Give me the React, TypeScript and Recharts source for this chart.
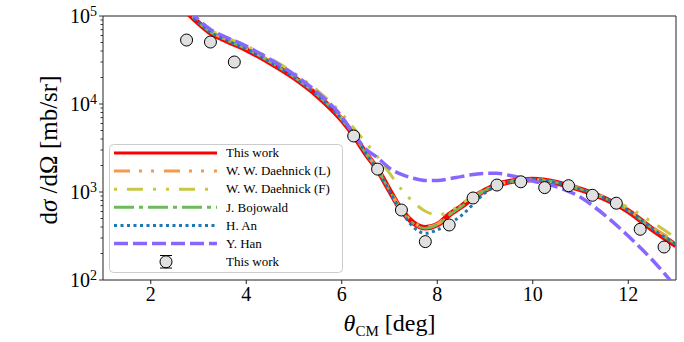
import { ComposedChart, Line, Scatter, XAxis, YAxis, ReferenceArea } from 'recharts';

// angle grid of the model curves [deg]
const thetaGrid = [2.5, 2.75, 3, 3.25, 3.5, 4, 4.5, 5, 5.5, 6, 6.25, 6.5, 6.75, 7, 7.25, 7.5, 7.75, 8, 8.25, 8.5, 8.75, 9, 9.25, 9.5, 9.75, 10, 10.5, 11, 11.5, 12, 12.5, 13];

// model cross sections [mb/sr]
const thisWork = [151000, 112000, 83200, 64600, 55000, 41700, 29500, 19950, 12300, 6610, 4420, 2750, 1800, 1045, 621, 446, 392, 426, 552, 682, 865, 1045, 1202, 1306, 1371, 1387, 1276, 1069, 843, 607, 378, 247];
const daehnickL = [156000, 116000, 86100, 66900, 56900, 43200, 30500, 20650, 12700, 6840, 4550, 2800, 1820, 1050, 625, 450, 398, 430, 555, 690, 870, 1050, 1205, 1310, 1375, 1390, 1285, 1085, 862, 628, 400, 268];
const daehnickF = [161500, 120000, 89900, 69800, 59400, 45900, 33000, 22500, 14100, 7800, 5330, 3660, 2510, 1640, 1070, 767, 605, 551, 592, 731, 885, 1045, 1202, 1306, 1371, 1387, 1280, 1080, 870, 670, 455, 300];
const bojowald = [152800, 113300, 84200, 65400, 55700, 42200, 29850, 20200, 12450, 6690, 4470, 2770, 1805, 1040, 615, 440, 388, 422, 548, 680, 862, 1042, 1200, 1305, 1372, 1390, 1282, 1078, 852, 615, 385, 254];
const hAn = [152800, 113300, 84200, 65400, 55700, 42200, 29850, 20200, 12450, 6690, 4450, 2760, 1790, 1020, 603, 398, 339, 372, 437, 537, 724, 977, 1175, 1288, 1365, 1385, 1280, 1075, 850, 612, 383, 252];
const yHan = [164600, 122000, 90700, 70400, 60000, 45500, 32200, 21700, 13400, 7200, 4570, 3090, 2455, 1860, 1585, 1435, 1350, 1350, 1413, 1496, 1578, 1629, 1629, 1549, 1445, 1334, 1148, 871, 550, 316, 170, 83];

// measured points
const dataTheta = [2.75, 3.25, 3.75, 6.25, 6.75, 7.25, 7.75, 8.25, 8.75, 9.25, 9.75, 10.25, 10.75, 11.25, 11.75, 12.25, 12.75];
const dataSigma = [53300, 50600, 30000, 4330, 1820, 624, 273, 422, 855, 1200, 1306, 1122, 1180, 918, 746, 377, 237];

const xTicks = [2, 4, 6, 8, 10, 12];
const yTicks = [2, 3, 4].flatMap((e) => [1, 2, 3, 4, 5, 6, 7, 8, 9].map((m) => m * Math.pow(10, e))).concat([100000]);

const FONT = '"Liberation Serif", "DejaVu Serif", serif';

const series = [
  { key: 'thisWork', name: 'This work', color: '#ff0000', width: 5.5, legendWidth: 3.2, dash: undefined },
  { key: 'daehnickL', name: 'W. W. Daehnick (L)', color: '#f5994a', width: 3.5, legendWidth: 3, dash: '16 9 3 9 3 10' },
  { key: 'daehnickF', name: 'W. W. Daehnick (F)', color: '#c9c845', width: 3, legendWidth: 3, dash: '3 10 16 10 3 10' },
  { key: 'bojowald', name: 'J. Bojowald', color: '#6bbb5a', width: 2.5, legendWidth: 3, dash: '20 5 4 5' },
  { key: 'an', name: 'H. An', color: '#1f77b4', width: 3, legendWidth: 3, dash: '3 3.5' },
  { key: 'han', name: 'Y. Han', color: '#8866ff', width: 3.5, legendWidth: 3.5, dash: '14 5' },
];

const values: Record<string, number[]> = { thisWork, daehnickL, daehnickF, bojowald, an: hAn, han: yHan };

const curveRows = thetaGrid.map((t, i) => {
  const row: Record<string, number> = { theta: t };
  series.forEach((s) => { row[s.key] = values[s.key][i]; });
  return row;
});

const pointRows = dataTheta.map((t, i) => ({ theta: t, sigma: dataSigma[i] }));

function YTick(props: any) {
  const { x, y, payload } = props;
  const v = payload.value;
  const exp = Math.round(Math.log10(v));
  const major = Math.abs(Math.pow(10, exp) - v) < 1e-6;
  return (
    <g>
      <line x1={x - (major ? 4 : 2.5)} x2={x} y1={y} y2={y} stroke="#222" strokeWidth={0.9} />
      {major && (
        <text x={x - 6} y={y} dy="0.36em" textAnchor="end" fontFamily={FONT} fontSize={20} fill="#000">
          10
          <tspan dy="-0.55em" fontSize={14}>{exp}</tspan>
        </text>
      )}
    </g>
  );
}

function XLabel(props: any) {
  const vb = props.viewBox || { x: 103, y: 280, width: 573 };
  return (
    <text x={vb.x + vb.width / 2} y={vb.y + 51} textAnchor="middle" fontFamily={FONT} fontSize={24} fill="#000">
      <tspan fontStyle="italic">θ</tspan>
      <tspan fontSize={15} dy={5}>CM</tspan>
      <tspan dy={-5}> [deg]</tspan>
    </text>
  );
}

function YLabel(props: any) {
  const vb = props.viewBox || { x: 0, y: 16, width: 103, height: 264 };
  const cx = 48;
  const cy = vb.y + vb.height / 2 + 2;
  return (
    <text transform={`translate(${cx},${cy}) rotate(-90)`} textAnchor="middle" dominantBaseline="central" fontFamily={FONT} fontSize={25} fill="#000">
      d<tspan fontStyle="italic">σ</tspan> /dΩ [mb/sr]
    </text>
  );
}

function LegendBox() {
  const top = 153;
  const step = 18.1;
  return (
    <svg width={684} height={342} style={{ position: 'absolute', left: 0, top: 0, pointerEvents: 'none' }}>
      <rect x={109.5} y={144.5} width={233} height={128} rx={4} fill="#fff" fillOpacity={0.8} stroke="#cccccc" />
      {series.map((s, i) => (
        <g key={s.key}>
          <line x1={114} x2={217} y1={top + i * step} y2={top + i * step} stroke={s.color} strokeWidth={s.legendWidth} strokeDasharray={s.dash} />
          <text x={226} y={top + i * step} dy="0.33em" fontFamily={FONT} fontSize={13} fill="#000">{s.name}</text>
        </g>
      ))}
      <g>
        <line x1={166} x2={166} y1={255.5} y2={268} stroke="#000" strokeWidth={1} />
        <line x1={160} x2={172} y1={255.5} y2={255.5} stroke="#000" strokeWidth={1} />
        <line x1={160} x2={172} y1={268} y2={268} stroke="#000" strokeWidth={1} />
        <circle cx={166} cy={261.8} r={6} fill="#e0e0e0" stroke="#000" strokeWidth={1} />
        <text x={226} y={261.8} dy="0.33em" fontFamily={FONT} fontSize={13} fill="#000">This work</text>
      </g>
    </svg>
  );
}

export default function App() {
  return (
    <div style={{ position: 'absolute', left: 0, top: 0, width: 684, height: 342, background: '#fff' }}>
      <ComposedChart width={684} height={342} data={curveRows} margin={{ top: 16, right: 8, left: 0, bottom: 0 }}>
        <XAxis
          dataKey="theta"
          type="number"
          domain={[1, 13]}
          ticks={xTicks}
          allowDataOverflow
          height={62}
          axisLine={false}
          tickSize={4}
          tickMargin={3}
          tickLine={{ stroke: '#222' }}
          tick={{ fontSize: 20, fill: '#000', fontFamily: FONT }}
          label={{ content: XLabel }}
        />
        <YAxis
          type="number"
          scale="log"
          domain={[100, 100000]}
          ticks={yTicks}
          interval={0}
          allowDataOverflow
          width={103}
          axisLine={false}
          tickLine={false}
          tickSize={0}
          tickMargin={0}
          tick={YTick}
          label={{ content: YLabel }}
        />
        <ReferenceArea x1={1} x2={13} y1={100} y2={100000} fill="none" stroke="#222" strokeWidth={1} />
        {series.map((s) => (
          <Line
            key={s.key}
            dataKey={s.key}
            name={s.name}
            type="monotone"
            stroke={s.color}
            strokeWidth={s.width}
            strokeDasharray={s.dash}
            dot={false}
            activeDot={false}
            isAnimationActive={false}
          />
        ))}
        <Scatter
          data={pointRows}
          dataKey="sigma"
          name="This work"
          isAnimationActive={false}
          shape={(p: any) => <circle cx={p.cx} cy={p.cy} r={6} fill="#e0e0e0" stroke="#000" strokeWidth={1} />}
        />
      </ComposedChart>
      <LegendBox />
    </div>
  );
}
